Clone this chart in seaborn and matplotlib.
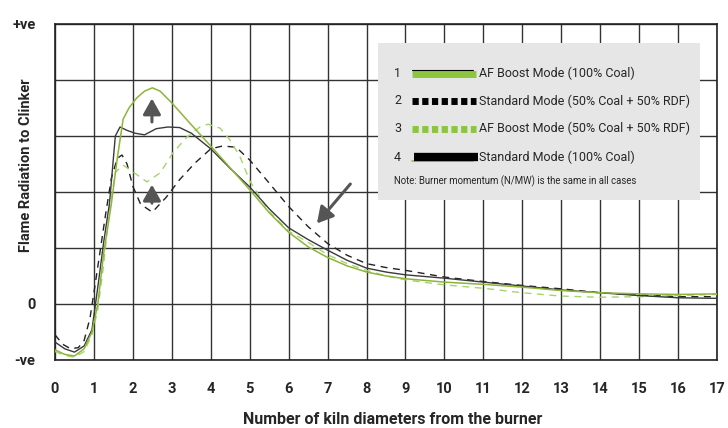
import matplotlib
matplotlib.use("Agg")
import matplotlib.pyplot as plt
import seaborn as sns
from matplotlib.patches import Rectangle
from matplotlib.lines import Line2D

# Curve data (x = kiln diameters, y = relative radiation)
af_coal_x = [0, 0.25, 0.5, 0.75, 0.95, 1.1, 1.25, 1.45, 1.6, 1.75, 1.9, 2.1, 2.3, 2.5, 2.7, 3.0,
             3.5, 4.0, 4.5, 5.0, 5.5, 6.0, 6.5, 7.0, 7.5, 8.0, 8.5, 9, 10, 11, 12, 13, 14, 15, 16, 17]
af_coal_y = [-0.82, -0.9, -0.93, -0.8, -0.5, 0.0, 0.9, 1.8, 2.6, 3.3, 3.5, 3.68, 3.8, 3.86, 3.8, 3.59,
             3.2, 2.82, 2.43, 2.04, 1.63, 1.28, 1.02, 0.83, 0.68, 0.57, 0.5, 0.45, 0.39, 0.35, 0.30,
             0.24, 0.2, 0.18, 0.17, 0.18]

std_coal_x = [0, 0.25, 0.5, 0.75, 0.95, 1.1, 1.25, 1.4, 1.55, 1.67, 1.85, 2.05, 2.3, 2.6, 2.9, 3.2,
              3.5, 4.0, 4.5, 5.0, 5.5, 6.0, 6.5, 7.0, 7.5, 8.0, 8.5, 9, 10, 11, 12, 13, 14, 15, 16, 17]
std_coal_y = [-0.68, -0.8, -0.86, -0.75, -0.46, 0.3, 1.1, 1.8, 3.0, 3.16, 3.1, 3.05, 3.02, 3.13, 3.16,
              3.15, 3.05, 2.77, 2.42, 2.09, 1.7, 1.36, 1.15, 0.96, 0.78, 0.64, 0.57, 0.52, 0.46, 0.39,
              0.32, 0.25, 0.2, 0.15, 0.11, 0.10]

std_rdf_x = [0, 0.2, 0.4, 0.6, 0.75, 0.9, 1.0, 1.15, 1.3, 1.45, 1.6, 1.72, 1.85, 2.0, 2.2, 2.5, 2.85,
             3.2, 3.6, 4.0, 4.3, 4.65, 5.0, 5.45, 6.0, 6.5, 7.0, 7.5, 8.0, 8.5, 9, 10, 11, 12, 13, 14,
             15, 16, 17]
std_rdf_y = [-0.55, -0.72, -0.8, -0.78, -0.65, -0.25, 0.2, 0.9, 1.6, 2.25, 2.6, 2.66, 2.5, 2.1, 1.78,
             1.64, 1.9, 2.22, 2.52, 2.77, 2.82, 2.8, 2.57, 2.2, 1.74, 1.38, 1.08, 0.87, 0.72, 0.65,
             0.6, 0.48, 0.4, 0.33, 0.27, 0.2, 0.16, 0.13, 0.13]

af_rdf_x = [0, 0.25, 0.5, 0.75, 0.95, 1.1, 1.25, 1.4, 1.55, 1.75, 2.0, 2.36, 2.7, 3.03, 3.39, 3.72,
            3.93, 4.24, 4.49, 4.75, 5.0, 5.5, 6.0, 6.5, 7.0, 7.5, 8.0, 8.5, 9, 10, 11, 12, 13, 14,
            15, 16, 17]
af_rdf_y = [-0.85, -0.92, -0.95, -0.85, -0.55, -0.1, 0.7, 1.7, 2.35, 2.48, 2.36, 2.18, 2.34, 2.7, 2.98,
            3.16, 3.21, 3.14, 2.93, 2.63, 2.2, 1.65, 1.3, 1.1, 0.88, 0.72, 0.6, 0.5, 0.43, 0.34,
            0.28, 0.2, 0.14, 0.12, 0.13, 0.15, 0.17]

legend_nums = ["1", "2", "3", "4"]
legend_labels = ["AF Boost Mode (100% Coal)",
                 "Standard Mode (50% Coal + 50% RDF)",
                 "AF Boost Mode (50% Coal + 50% RDF)",
                 "Standard Mode (100% Coal)"]
note = "Note: Burner momentum (N/MW) is the same in all cases"
x_ticks = list(range(18))
y_tick_labels = ["-ve", "0", "", "", "", "", "+ve"]

sns.set_theme(style="white")
plt.rcParams["font.family"] = ["Roboto", "DejaVu Sans"]

green = "#8db53a"
light_green = "#a5d46a"
swatch_green = "#8cc63f"

fig = plt.figure(figsize=(7.28, 4.28), dpi=100)
ax = fig.add_axes([0.0755, 0.159, 0.9095, 0.785])

sns.lineplot(x=std_rdf_x, y=std_rdf_y, ax=ax, color="#222222", lw=1.0, linestyle=(0, (5, 4)), zorder=3)
sns.lineplot(x=af_rdf_x, y=af_rdf_y, ax=ax, color=light_green, lw=1.0, linestyle=(0, (5, 4)), zorder=3)
sns.lineplot(x=std_coal_x, y=std_coal_y, ax=ax, color="#3a3a3a", lw=1.0, zorder=4)
sns.lineplot(x=af_coal_x, y=af_coal_y, ax=ax, color=green, lw=1.1, zorder=4)

ax.set_xlim(0, 17)
ax.set_ylim(-1, 5)
ax.set_xticks(x_ticks)
ax.set_xticklabels([str(t) for t in x_ticks], fontweight="bold", fontsize=10.5)
ax.set_yticks(range(-1, 6))
ax.set_yticklabels(y_tick_labels, fontweight="bold", fontsize=10.5)
ax.tick_params(axis="x", length=0, pad=16)
ax.tick_params(axis="y", length=0, pad=14)
ax.grid(True, color="#333333", lw=1.0)
ax.set_axisbelow(True)
for s in ax.spines.values():
    s.set_color("#222222")
    s.set_linewidth(1.2)

ax.set_xlabel("Number of kiln diameters from the burner", fontsize=11.5, fontweight="bold")
ax.set_ylabel("Flame Radiation to Clinker", fontsize=10.5, fontweight="bold")
ax.xaxis.set_label_coords(0.51, -0.155)
ax.yaxis.set_label_coords(-0.033, 0.58)

# arrows
arrow_kw = dict(arrowstyle="-|>,head_width=0.45,head_length=0.8", color="#555555", lw=2.2)
ax.annotate("", xy=(2.49, 3.72), xytext=(2.49, 3.2), arrowprops=arrow_kw, zorder=5)
ax.annotate("", xy=(2.49, 2.18), xytext=(2.49, 1.75), arrowprops=arrow_kw, zorder=5)
ax.annotate("", xy=(6.68, 1.4), xytext=(7.63, 2.18), arrowprops=arrow_kw, zorder=5)

# legend panel
ax.add_patch(Rectangle((0.488, 0.476), 0.486, 0.467, transform=ax.transAxes,
                       facecolor="#e6e6e6", edgecolor="none", zorder=6))
rows = [0.854, 0.771, 0.688, 0.604]
sx0, sx1 = 0.539, 0.636
for i, (num, lab, yy) in enumerate(zip(legend_nums, legend_labels, rows)):
    ax.text(0.512, yy, num, transform=ax.transAxes, fontsize=9, va="center", zorder=8)
    ax.text(0.640, yy, lab, transform=ax.transAxes, fontsize=9, va="center", zorder=8)
    if i == 0:
        ax.add_line(Line2D([sx0, sx1], [yy - 0.004, yy - 0.004], transform=ax.transAxes,
                           color=swatch_green, lw=5, solid_capstyle="butt", zorder=7))
        ax.add_line(Line2D([sx0, sx1 - 0.004], [yy + 0.010, yy + 0.010], transform=ax.transAxes,
                           color="black", lw=0.8, zorder=8))
    elif i == 1:
        ax.add_line(Line2D([sx0, sx1], [yy, yy], transform=ax.transAxes, color="black",
                           lw=5, linestyle=(0, (0.9, 0.5)), dash_capstyle="butt", zorder=7))
    elif i == 2:
        ax.add_line(Line2D([sx0, sx1], [yy, yy], transform=ax.transAxes, color=swatch_green,
                           lw=5, linestyle=(0, (0.9, 0.5)), dash_capstyle="butt", zorder=7))
    else:
        ax.add_line(Line2D([sx0, sx1 - 0.004], [yy - 0.012, yy - 0.012], transform=ax.transAxes,
                           color=swatch_green, lw=1.2, zorder=7))
        ax.add_line(Line2D([sx0 + 0.003, sx1 + 0.003], [yy, yy], transform=ax.transAxes,
                           color="black", lw=6, solid_capstyle="butt", zorder=8))
ax.text(0.512, 0.533, note, transform=ax.transAxes, fontsize=6.9, va="center", zorder=8)

fig.savefig("out.png", dpi=100)
